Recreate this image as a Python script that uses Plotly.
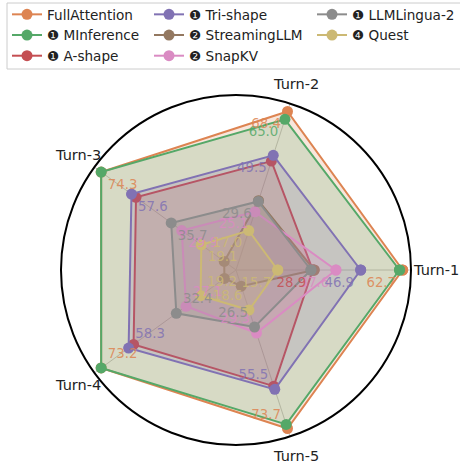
import math
import plotly.graph_objects as go

# ---------------- data ----------------
turns = ["Turn-1", "Turn-2", "Turn-3", "Turn-4", "Turn-5"]

full_attention = [62.7, 68.4, 74.3, 73.2, 73.7]
minference = [61.5, 65.0, 74.3, 73.2, 71.8]
a_shape = [28.9, 47.0, 55.1, 55.6, 54.0]
tri_shape = [46.9, 49.5, 57.6, 58.3, 55.5]
streaming_llm = [29.4, 29.9, 6.5, 6.3, 7.5]
snapkv = [37.6, 25.1, 29.9, 27.1, 29.3]
llmlingua2 = [28.2, 29.6, 35.7, 32.4, 26.5]
quest = [15.7, 17.0, 19.1, 19.2, 18.6]

names = ["FullAttention", "❶ MInference", "❶ A-shape", "❶ Tri-shape",
         "❷ StreamingLLM", "❷ SnapKV", "❶ LLMLingua-2", "❹ Quest"]
values = [full_attention, minference, a_shape, tri_shape,
          streaming_llm, snapkv, llmlingua2, quest]
colors = ["#dd8452", "#55a868", "#c44e52", "#8172b3",
          "#937860", "#da8bc3", "#8c8c8c", "#ccb974"]
# which value labels are visible in the chart
label_shown = [
    [1, 1, 1, 1, 1],
    [0, 1, 0, 0, 0],
    [1, 0, 0, 0, 0],
    [1, 1, 1, 1, 1],
    [0, 0, 0, 0, 0],
    [1, 1, 1, 1, 1],
    [0, 1, 1, 1, 1],
    [1, 1, 1, 1, 1],
]
legend_ids = ["legend", "legend", "legend", "legend2",
              "legend2", "legend2", "legend3", "legend3"]
label_order = [5, 4, 1, 0, 2, 3, 6, 7]
label_pos = ["bottom left", "bottom left", "bottom right", "top right", "top left"]


def rgba(hex_color, a):
    h = hex_color.lstrip("#")
    r, g, b = int(h[0:2], 16), int(h[2:4], 16), int(h[4:6], 16)
    return f"rgba({r},{g},{b},{a})"


def normalized(vals):
    return [v / f for v, f in zip(vals, full_attention)]


FONT = "DejaVu Sans"
RMAX = 1.05
fig = go.Figure()

# polygons (fill + line + markers)
for i, (name, vals, col) in enumerate(zip(names, values, colors)):
    r = normalized(vals)
    fig.add_trace(go.Scatterpolar(
        r=r + [r[0]], theta=turns + [turns[0]],
        mode="lines+markers", fill="toself",
        fillcolor=rgba(col, 0.2),
        line=dict(color=col, width=2),
        marker=dict(size=11, color=col),
        name=name, showlegend=False, hoverinfo="skip",
    ))

# value labels
for i in label_order:
    vals = values[i]
    r = normalized(vals)
    txt = [f"{v:.1f}" if s else "" for v, s in zip(vals, label_shown[i])]
    fig.add_trace(go.Scatterpolar(
        r=r, theta=turns, mode="markers+text",
        marker=dict(size=9, color="rgba(0,0,0,0)"),
        text=txt, textposition=label_pos,
        textfont=dict(family=FONT, size=13.3, color=rgba(colors[i], 0.85)),
        showlegend=False, hoverinfo="skip",
    ))

# legend entries (line + marker only)
for i, (name, col) in enumerate(zip(names, colors)):
    fig.add_trace(go.Scatterpolar(
        r=[None], theta=[None], mode="lines+markers",
        line=dict(color=col, width=2), marker=dict(size=11, color=col),
        name=name, legend=legend_ids[i], legendrank=i, hoverinfo="skip",
    ))

cx, cy, rad = 236, 270, 175
W, H = 460, 465
LEG_FONT = dict(family=FONT, size=13.6, color="#222222")

# category labels placed just outside the polar circle
annotations = []
for k, t in enumerate(turns):
    ang = math.radians(360.0 * k / len(turns))
    d = rad * (1.14 if k == 0 else 1.115)
    px = cx + d * math.cos(ang)
    py = cy - d * math.sin(ang)
    annotations.append(dict(
        text=t, x=px / W, y=1 - py / H, xref="paper", yref="paper",
        xanchor="center", yanchor="middle", showarrow=False,
        font=dict(family=FONT, size=14.5, color="#222222"),
    ))

fig.update_layout(
    width=W, height=H,
    margin=dict(l=0, r=0, t=0, b=0, autoexpand=False),
    paper_bgcolor="white",
    font=dict(family=FONT, size=13, color="#222222"),
    polar=dict(
        domain=dict(x=[(cx - rad) / W, (cx + rad) / W],
                    y=[(H - cy - rad) / H, (H - cy + rad) / H]),
        bgcolor="white",
        angularaxis=dict(
            rotation=0, direction="counterclockwise",
            showline=True, linecolor="black", linewidth=2,
            showgrid=True, gridcolor="#c8c8c8", gridwidth=1,
            ticks="", showticklabels=False,
        ),
        radialaxis=dict(
            range=[0, RMAX], showline=False, showgrid=False,
            showticklabels=False, ticks="",
        ),
    ),
    annotations=annotations,
    legend=dict(x=7 / W, y=1 + 1 / H, xanchor="left", yanchor="top",
                bgcolor="rgba(0,0,0,0)", borderwidth=0, font=LEG_FONT),
    legend2=dict(x=149 / W, y=1 + 1 / H, xanchor="left", yanchor="top",
                 bgcolor="rgba(0,0,0,0)", borderwidth=0, font=LEG_FONT),
    legend3=dict(x=312 / W, y=1 + 1 / H, xanchor="left", yanchor="top",
                 bgcolor="rgba(0,0,0,0)", borderwidth=0, font=LEG_FONT),
    shapes=[dict(type="rect", xref="paper", yref="paper",
                 x0=7 / W, x1=1.01, y0=1 - 69 / H, y1=1 - 3 / H,
                 line=dict(color="#cccccc", width=1),
                 fillcolor="rgba(255,255,255,0.8)", layer="below")],
)

fig.write_html("out.html", config={"displayModeBar": False},
               post_script="document.body.style.margin='0';"
                           "document.body.style.padding='0';")
